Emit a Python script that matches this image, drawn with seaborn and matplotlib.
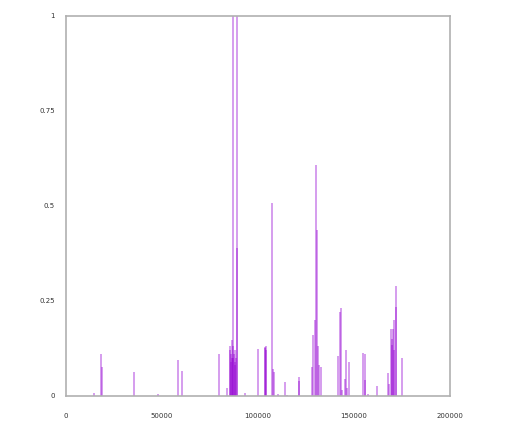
import matplotlib
matplotlib.use("Agg")
import matplotlib.pyplot as plt
import seaborn as sns

# ── Spike positions and heights ────────────────────────────────────────────
positions = [
    14600, 18100, 18500, 35300, 48100, 58500, 60600, 79700, 83800,
    85200, 85400, 85700, 85900, 86200, 86500, 86800, 87000, 87200, 87500,
    87800, 88000, 88200, 88500, 88900, 89100,
    93200, 100200, 103400, 103800, 104100, 104400, 107100, 107600, 108500, 110600,
    114100, 115200, 121200, 121500, 128100, 128600, 129900, 130200, 130700,
    131200, 131900, 132600, 141700, 142500, 143400, 143700, 145100, 145700,
    146500, 147400, 154800, 155600, 155900, 157300, 162100, 167900, 168400,
    169300, 169600, 170000, 170500, 170800, 171000, 171700, 172000, 175100,
]
values = [
    0.008, 0.11, 0.075, 0.063, 0.004, 0.094, 0.066, 0.11, 0.02,
    0.13, 0.12, 0.09, 0.11, 0.1, 0.147, 0.13, 0.1, 1.0, 0.11,
    0.12, 0.08, 0.09, 0.1, 1.0, 0.39,
    0.008, 0.123, 0.125, 0.128, 0.12, 0.13, 0.507, 0.07, 0.064, 0.005,
    0.036, 0.003, 0.05, 0.04, 0.075, 0.16, 0.2, 0.608, 0.437,
    0.13, 0.08, 0.075, 0.105, 0.222, 0.23, 0.015, 0.045, 0.12,
    0.02, 0.089, 0.112, 0.11, 0.042, 0.005, 0.026, 0.06, 0.03,
    0.175, 0.15, 0.134, 0.175, 0.12, 0.2, 0.233, 0.29, 0.1,
]

x_ticks = [0, 50000, 100000, 150000, 200000]
x_labels = ["0", "50000", "100000", "150000", "200000"]
y_ticks = [0, 0.25, 0.5, 0.75, 1]
y_labels = ["0", "0.25", "0.5", "0.75", "1"]

sns.set_theme(style="white")
plt.rcParams["font.family"] = ["DejaVu Sans"]

fig = plt.figure(figsize=(5.12, 4.28), dpi=100, facecolor="white")
ax = fig.add_axes([0.129, 0.075, 0.750, 0.888])

ax.vlines(positions, 0, values, color="#9400d3", alpha=0.45, linewidth=1.2)

ax.set_xlim(0, 200000)
ax.set_ylim(0, 1)
ax.set_xticks(x_ticks)
ax.set_xticklabels(x_labels)
ax.set_yticks(y_ticks)
ax.set_yticklabels(y_labels)
ax.tick_params(axis="both", length=0, labelsize=5, colors="#333333")
ax.tick_params(axis="x", pad=12)
ax.tick_params(axis="y", pad=8)

for spine in ax.spines.values():
    spine.set_color("#b0b0b0")
    spine.set_linewidth(1.2)

plt.savefig("out.png", dpi=100, facecolor="white")
